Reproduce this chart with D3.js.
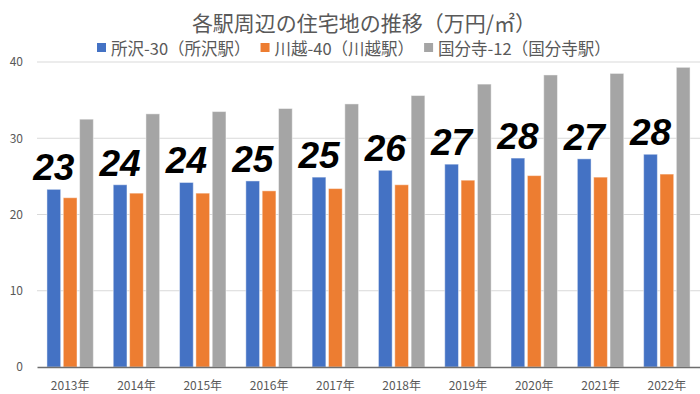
<!DOCTYPE html>
<html lang="ja">
<head>
<meta charset="UTF-8">
<title>各駅周辺の住宅地の推移</title>
<script src="https://cdn.jsdelivr.net/npm/d3@7"></script>
<style>
    body { margin: 0; background: #fff; }
    svg { display: block; font-family: "Noto Sans CJK JP", "Noto Sans", sans-serif; }
    .tick text { fill: #595959; }
</style>
</head>
<body>
<svg width="700" height="394"></svg>
<script>
    // data
    var years = ["2013年", "2014年", "2015年", "2016年", "2017年", "2018年", "2019年", "2020年", "2021年", "2022年"];
    var seriesNames = ["所沢-30（所沢駅）", "川越-40（川越駅）", "国分寺-12（国分寺駅）"];
    var tokorozawa = [23.3, 23.9, 24.2, 24.4, 24.9, 25.8, 26.6, 27.4, 27.3, 27.9];
    var kawagoe = [22.2, 22.8, 22.8, 23.1, 23.4, 23.9, 24.5, 25.1, 24.9, 25.3];
    var kokubunji = [32.5, 33.2, 33.5, 33.9, 34.5, 35.6, 37.1, 38.3, 38.5, 39.3];
    var labels = [23, 24, 24, 25, 25, 26, 27, 28, 27, 28];
    var yTicks = [0, 10, 20, 30, 40];
    var colors = ["#4472C4", "#ED7D31", "#A5A5A5"];

    var svg = d3.select("svg");
    var plotLeft = 37, plotRight = 700, plotTop = 62, plotBottom = 367;

    var table = years.map(function (yr, i) {
        return { year: yr, values: [tokorozawa[i], kawagoe[i], kokubunji[i]], label: labels[i] };
    });

    var x0 = d3.scaleBand().domain(years).range([plotLeft, plotRight]).paddingInner(0.3).paddingOuter(0.15);
    var x1 = d3.scaleBand().domain([0, 1, 2]).range([0, x0.bandwidth()]).paddingInner(0.16);
    var y = d3.scaleLinear().domain([0, 40]).range([plotBottom, plotTop]);

    // gridlines
    svg.append("g")
        .selectAll("line")
        .data(yTicks.slice(1))
        .enter().append("line")
        .attr("x1", plotLeft).attr("x2", plotRight)
        .attr("y1", function (d) { return y(d); })
        .attr("y2", function (d) { return y(d); })
        .attr("stroke", "#d9d9d9");

    // y axis labels
    var yAxis = svg.append("g")
        .attr("transform", "translate(" + plotLeft + ",0)")
        .call(d3.axisLeft(y).tickValues(yTicks).tickSize(0).tickPadding(14))
        .style("font-size", "12px")
        .style("font-family", "'Noto Sans CJK JP', sans-serif");
    yAxis.select(".domain").remove();

    // bars
    var group = svg.append("g")
        .selectAll("g")
        .data(table)
        .enter().append("g")
        .attr("transform", function (d) { return "translate(" + x0(d.year) + ",0)"; });

    group.selectAll("rect")
        .data(function (d) { return d.values; })
        .enter().append("rect")
        .attr("x", function (d, i) { return x1(i); })
        .attr("width", x1.bandwidth())
        .attr("y", function (d) { return y(d); })
        .attr("height", function (d) { return y(0) - y(d); })
        .attr("fill", function (d, i) { return colors[i]; })
        .attr("stroke", "#fff")
        .attr("stroke-opacity", 0.45)
        .attr("stroke-width", 1);

    // big labels over the blue bar
    group.append("text")
        .attr("x", x1(0) + x1.bandwidth() / 2)
        .attr("y", function (d) { return y(d.values[0]) - 9; })
        .attr("text-anchor", "middle")
        .style("font-family", "'Liberation Sans', Arial, sans-serif")
        .style("font-weight", "bold")
        .style("font-style", "italic")
        .style("font-size", "37px")
        .attr("fill", "#000")
        .text(function (d) { return d.label; });

    // x axis
    var xAxis = svg.append("g")
        .attr("transform", "translate(0," + plotBottom + ")")
        .call(d3.axisBottom(x0).tickSize(0).tickPadding(14))
        .style("font-size", "12px")
        .style("font-family", "'Noto Sans CJK JP', sans-serif");
    xAxis.select(".domain").attr("stroke", "#6e6e6e").attr("stroke-width", 1.5);

    // title
    svg.append("text")
        .attr("x", 364)
        .attr("y", 22)
        .attr("text-anchor", "middle")
        .attr("dominant-baseline", "central")
        .attr("fill", "#595959")
        .style("font-size", "21px")
        .text("各駅周辺の住宅地の推移（万円/㎡）");

    // legend
    var legend = svg.append("g");
    var lx = 97;
    seriesNames.forEach(function (name, i) {
        legend.append("rect")
            .attr("x", lx).attr("y", 43)
            .attr("width", 9).attr("height", 9)
            .attr("fill", colors[i]);
        var t = legend.append("text")
            .attr("x", lx + 14)
            .attr("y", 47.5)
            .attr("dominant-baseline", "central")
            .attr("fill", "#595959")
            .style("font-size", "16.5px")
            .text(name);
        lx += 14 + t.node().getComputedTextLength() + 10;
    });
</script>
</body>
</html>
